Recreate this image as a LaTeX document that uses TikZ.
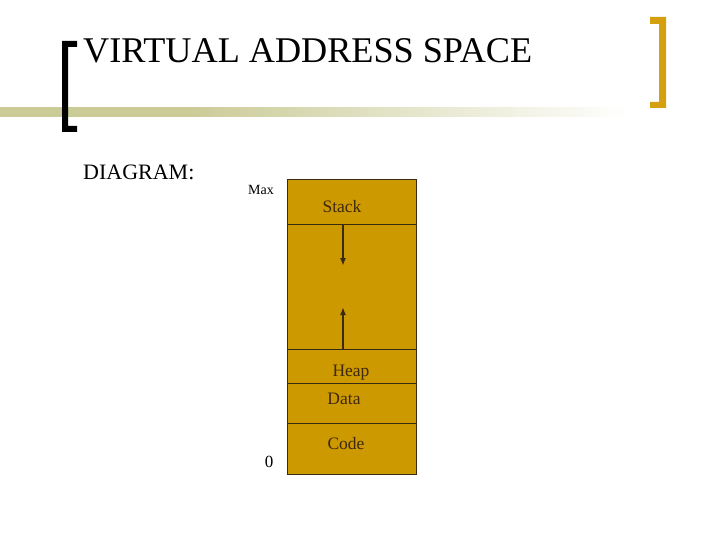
\documentclass[tikz,border=0pt]{standalone}
\usepackage{fontspec}
\setmainfont{Liberation Serif}
\usetikzlibrary{arrows.meta}
\definecolor{segGold}{HTML}{CC9900}
\definecolor{segLine}{HTML}{3A2A10}
\definecolor{segText}{HTML}{40290A}
\definecolor{barKhaki}{HTML}{CBCB98}
\definecolor{brGold}{HTML}{D4A010}
\tikzset{
    seglabel/.style={anchor=base,inner sep=0pt,text=segText,font=\fontsize{17.5}{17.5}\selectfont},
    sidelabel/.style={anchor=base,inner sep=0pt,text=black},
}
\begin{document}
\begin{tikzpicture}[x=1pt,y=-1pt]
\useasboundingbox[fill=white] (0,0) rectangle (720,540);

\shade[left color=barKhaki,right color=barKhaki,middle color=barKhaki] (0,108) rectangle (191,117);
\shade[left color=barKhaki,right color=white,draw=none] (190,108) rectangle (630,117);

\fill[black] (62,41) -- (77,41) -- (77,47) -- (68,47) -- (68,126) -- (77,126) -- (77,132) -- (62,132) -- cycle;
\fill[brGold] (650,17) -- (666,17) -- (666,108) -- (650,108) -- (650,102) -- (659,102) -- (659,24) -- (650,24) -- cycle;

\node[anchor=base west,inner sep=0pt,font=\fontsize{36.2}{36}\selectfont] (cTitle) at (83,63) {VIRTUAL ADDRESS SPACE};
\node[anchor=base west,inner sep=0pt,font=\fontsize{22}{22}\selectfont] (cDiag) at (83,180) {DIAGRAM:};

\foreach \v/\u in {179/224,224/349,349/383,383/423,423/474}
{
    \draw[segLine,fill=segGold,line width=0.8pt] (287,\v) rectangle (416,\u);
};

\foreach \v/\w/\u/\t in
{cStack/342/212/Stack,
    cHeap/351/376/Heap,
    cData/344/404/Data,
    cCode/346/449/Code}
{
    \node[seglabel] (\v) at (\w,\u) {\t};
};

\node[sidelabel,font=\fontsize{14}{14}\selectfont] (cMax) at (261,195) {Max};
\node[sidelabel,font=\fontsize{17}{17}\selectfont] (cZero) at (269,467) {0};

\coordinate (cDownA) at (343,224);
\coordinate (cDownB) at (343,266);
\coordinate (cUpA) at (343,349);
\coordinate (cUpB) at (343,307);

\draw[segLine,line width=2pt,-{Latex[length=8pt,width=6pt]}] (cDownA) -- (cDownB);
\draw[segLine,line width=2pt,-{Latex[length=8pt,width=6pt]}] (cUpA) -- (cUpB);
\end{tikzpicture}
\end{document}
